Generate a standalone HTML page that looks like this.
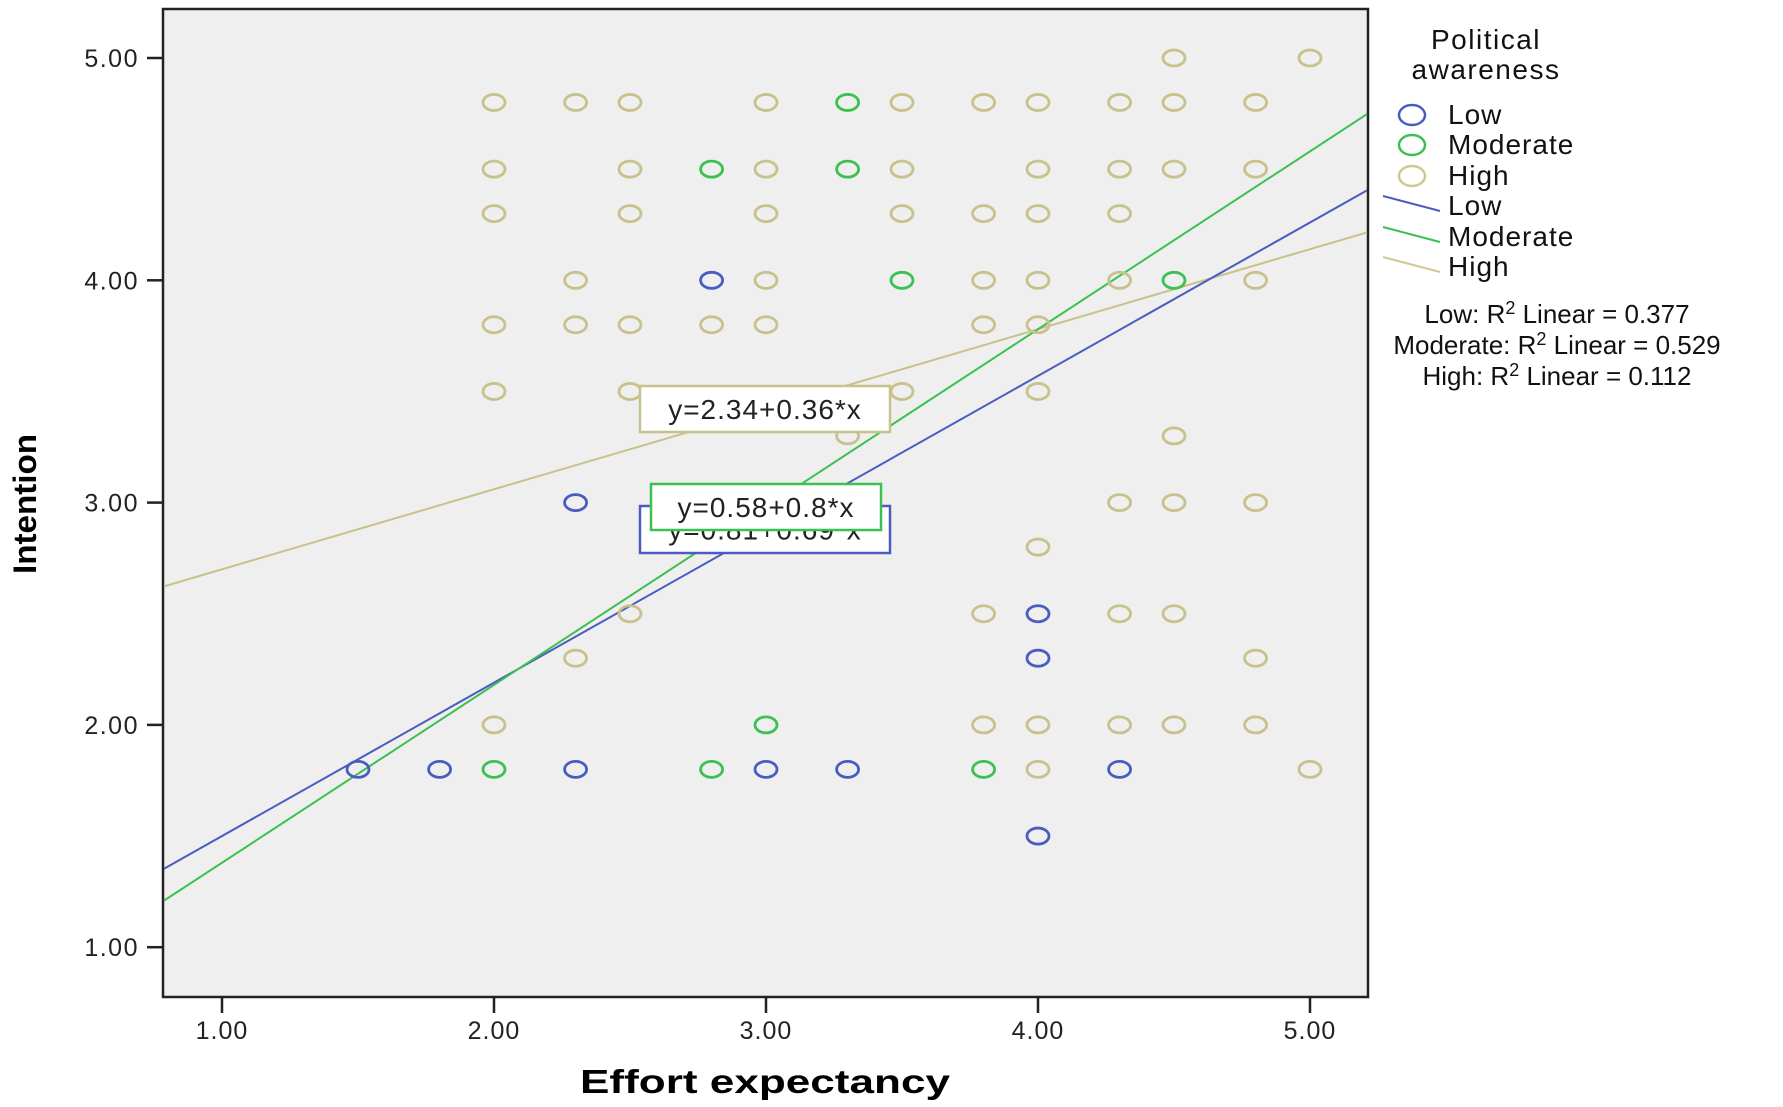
<!DOCTYPE html>
<html><head><meta charset="utf-8"><style>
html,body{margin:0;padding:0;background:#fff;}
svg{display:block;font-family:"Liberation Sans",sans-serif;}
</style></head><body>
<svg id="chart" width="1783" height="1107" viewBox="0 0 1783 1107">
<rect x="163" y="9" width="1205" height="988" fill="#efefef" stroke="#222" stroke-width="2.5"/>
<g id="lines"></g>
<g id="pts"></g>
<g id="eqs"></g>
<g id="axes"></g>
<text x="25" y="504" transform="rotate(-90 25 504)" text-anchor="middle" font-size="32" font-weight="bold" dominant-baseline="central" textLength="140" lengthAdjust="spacingAndGlyphs">Intention</text>
<text x="765" y="1093" text-anchor="middle" font-size="33" font-weight="bold" textLength="370" lengthAdjust="spacingAndGlyphs">Effort expectancy</text>
<g font-size="28" fill="#111">
<text x="1486" y="49" text-anchor="middle" letter-spacing="1.5">Political</text>
<text x="1486" y="79" text-anchor="middle" letter-spacing="1.5">awareness</text>
<ellipse cx="1412" cy="115" rx="13" ry="10" fill="none" stroke="#4a5cc0" stroke-width="2.5"/>
<text x="1448" y="124" letter-spacing="1">Low</text>
<ellipse cx="1412" cy="145" rx="13" ry="10" fill="none" stroke="#3cc050" stroke-width="2.5"/>
<text x="1448" y="154" letter-spacing="1">Moderate</text>
<ellipse cx="1412" cy="176" rx="13" ry="10" fill="none" stroke="#d0c894" stroke-width="2.5"/>
<text x="1448" y="185" letter-spacing="1">High</text>
<line x1="1383" y1="196" x2="1440" y2="211" stroke="#4a5cc0" stroke-width="2"/>
<text x="1448" y="215" letter-spacing="1">Low</text>
<line x1="1383" y1="227" x2="1440" y2="242" stroke="#3cc050" stroke-width="2"/>
<text x="1448" y="246" letter-spacing="1">Moderate</text>
<line x1="1383" y1="257" x2="1440" y2="272" stroke="#d0c894" stroke-width="2"/>
<text x="1448" y="276" letter-spacing="1">High</text>
<g font-size="26" text-anchor="middle">
<text x="1557" y="323">Low: R<tspan dy="-9" font-size="18">2</tspan><tspan dy="9"> Linear = 0.377</tspan></text>
<text x="1557" y="354">Moderate: R<tspan dy="-9" font-size="18">2</tspan><tspan dy="9"> Linear = 0.529</tspan></text>
<text x="1557" y="385">High: R<tspan dy="-9" font-size="18">2</tspan><tspan dy="9"> Linear = 0.112</tspan></text>
</g>
</g>
</svg>
<script>
const xTicks=[1,2,3,4,5];
const yTicks=[1,2,3,4,5];
const lowX=[1.5,1.8,2.3,3.0,3.3,4.3,4.0,4.0,4.0,2.3,2.8];
const lowY=[1.8,1.8,1.8,1.8,1.8,1.8,1.5,2.5,2.3,3.0,4.0];
const modX=[2.0,2.8,3.8,3.0,3.3,2.8,3.3,3.5,4.5];
const modY=[1.8,1.8,1.8,2.0,4.8,4.5,4.5,4.0,4.0];
const highX=[4.5,5.0, 2.0,2.3,2.5,3.0,3.5,3.8,4.0,4.3,4.5,4.8, 2.0,2.5,3.0,3.5,4.0,4.3,4.5,4.8, 2.0,2.5,3.0,3.5,3.8,4.0,4.3, 2.3,3.0,3.8,4.0,4.3,4.8, 2.0,2.3,2.5,2.8,3.0,3.8,4.0, 2.0,2.5,3.5,4.0, 3.3,4.5, 4.3,4.5,4.8, 4.0, 2.5,3.8,4.3,4.5, 2.3,4.8, 2.0,3.8,4.0,4.3,4.5,4.8, 4.0,5.0];
const highY=[5.0,5.0, 4.8,4.8,4.8,4.8,4.8,4.8,4.8,4.8,4.8,4.8, 4.5,4.5,4.5,4.5,4.5,4.5,4.5,4.5, 4.3,4.3,4.3,4.3,4.3,4.3,4.3, 4.0,4.0,4.0,4.0,4.0,4.0, 3.8,3.8,3.8,3.8,3.8,3.8,3.8, 3.5,3.5,3.5,3.5, 3.3,3.3, 3.0,3.0,3.0, 2.8, 2.5,2.5,2.5,2.5, 2.3,2.3, 2.0,2.0,2.0,2.0,2.0,2.0, 1.8,1.8];
const fitNames=["low","moderate","high"];
const fitIntercepts=[0.81,0.58,2.34];
const fitSlopes=[0.69,0.8,0.36];
const fitLabels=["y=0.81+0.69*x","y=0.58+0.8*x","y=2.34+0.36*x"];
const colors=["#4a5cc0","#3cc050","#c9c18c"];
const NS="http://www.w3.org/2000/svg";
const L=163,R=1368,T=9,B=997;
function sx(v){return 222+(v-1)*272;}
function sy(v){return 58+(5-v)*222.3;}
function vx(px){return (px-222)/272+1;}
function mk(tag,attrs,parent){const e=document.createElementNS(NS,tag);for(const k in attrs)e.setAttribute(k,attrs[k]);parent.appendChild(e);return e;}
const axes=document.getElementById('axes');
xTicks.forEach(t=>{
  const l=mk('line',{x1:sx(t),x2:sx(t),y1:B,y2:B+16,stroke:'#222','stroke-width':2.5},axes);
  
  
  const tx=mk('text',{x:sx(t),y:B+42,'text-anchor':'middle','font-size':25,fill:'#222','letter-spacing':1},axes);
  tx.textContent=t.toFixed(2);
  
  
});
yTicks.forEach(t=>{
  const l=mk('line',{x1:L-16,x2:L,y1:sy(t),y2:sy(t),stroke:'#222','stroke-width':2.5},axes);
  
  
  const tx=mk('text',{x:L-24,y:sy(t)+9,'text-anchor':'end','font-size':25,fill:'#222','letter-spacing':1.5},axes);
  tx.textContent=t.toFixed(2);
  
  
});
const pts=document.getElementById('pts');
function drawPts(xs,ys,c,name){
  xs.forEach((x,i)=>{
    const e=mk('ellipse',{cx:sx(x),cy:sy(ys[i]),rx:11,ry:8,fill:'none',stroke:c,'stroke-width':2.8},pts);
    
    
  });
}
drawPts(highX,highY,colors[2],'high');
drawPts(modX,modY,colors[1],'moderate');
drawPts(lowX,lowY,colors[0],'low');
const lines=document.getElementById('lines');
const x0=vx(L+1),x1=vx(R-1);
[2,0,1].forEach(i=>{
  const a=fitIntercepts[i],b=fitSlopes[i];
  const l=mk('line',{x1:sx(x0),y1:sy(a+b*x0),x2:sx(x1),y2:sy(a+b*x1),stroke:colors[i],'stroke-width':2},lines);
  
  
});
const eqs=document.getElementById('eqs');
const boxes=[[640,506,250,47],[651,484,230,46],[640,386,250,46]];
[0,2,1].forEach(i=>{
  const bx=boxes[i];
  const g=mk('g',{},eqs);
  
  
  mk('rect',{x:bx[0],y:bx[1],width:bx[2],height:bx[3],fill:'#fff',stroke:colors[i],'stroke-width':2.5},g);
  const t=mk('text',{x:bx[0]+bx[2]/2,y:bx[1]+bx[3]/2+10,'text-anchor':'middle','font-size':28,fill:'#222','letter-spacing':1},g);
  t.textContent=fitLabels[i];
});
</script>
</body></html>
